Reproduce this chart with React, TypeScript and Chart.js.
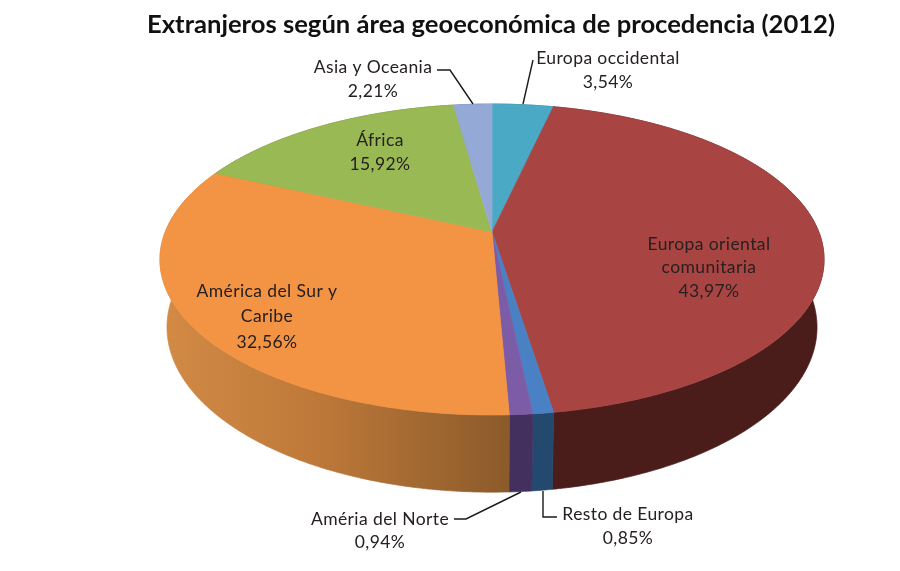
import React, { useEffect, useRef } from "react";
import { Chart, registerables } from "chart.js";

Chart.register(...registerables);

const titleText = "Extranjeros según área geoeconómica de procedencia (2012)";
const categories = [
  "Europa occidental",
  "Europa oriental comunitaria",
  "Resto de Europa",
  "Améria del Norte",
  "América del Sur y Caribe",
  "África",
  "Asia y Oceania",
];
const shares = [3.54, 43.97, 0.85, 0.94, 32.56, 15.92, 2.21];
const shareLabels = ["3,54%", "43,97%", "0,85%", "0,94%", "32,56%", "15,92%", "2,21%"];
const topColors = ["#4aa9c4", "#a84543", "#4a80c4", "#7c5ca6", "#f39344", "#99b955", "#95a9d6"];
const sideColors = ["#2b6a7c", "#4a1c1a", "#24496e", "#43305e", "#b27035", "#5e7433", "#5a6a8c"];

// Where each slice's label sits: wrapped lines, centre x, centre y of first line, line step.
const labelLayout = [
  { lines: ["Europa occidental"], x: 608, y: 58, step: 24 },
  { lines: ["Europa oriental", "comunitaria"], x: 709, y: 244, step: 23.5 },
  { lines: ["Resto de Europa"], x: 628, y: 514, step: 24 },
  { lines: ["Améria del Norte"], x: 380, y: 519, step: 23 },
  { lines: ["América del Sur y", "Caribe"], x: 267, y: 291, step: 25.5 },
  { lines: ["África"], x: 380, y: 140, step: 24 },
  { lines: ["Asia y Oceania"], x: 373, y: 67, step: 24 },
];
const leaderLines = [
  [[533, 60], [523, 104]],
  [[543, 491], [543, 517], [557, 517]],
  [[454, 519], [466, 519], [521, 492]],
  [[437, 70], [450, 70], [473, 104]],
];

// Perspective disc: the top face and the bottom rim share one tilt.
const tilt = 0.177;
const topFace = { cx: 492, cy: 232, rx: 326.8, ry: 150.6 };
const bottomFace = { cx: 492, cy: 298, rx: 319.9, ry: 159.8 };

type Face = typeof topFace;
const project = (f: Face, a: number): [number, number] => {
  const u = Math.cos(a);
  const v = Math.sin(a);
  const d = 1 - tilt * v;
  return [f.cx + (f.rx * u) / d, f.cy + (f.ry * v) / d];
};
const rim = (f: Face, a0: number, a1: number) => {
  const n = Math.max(4, Math.ceil(Math.abs(a1 - a0) / 0.01));
  const pts: [number, number][] = [];
  for (let i = 0; i <= n; i++) pts.push(project(f, a0 + ((a1 - a0) * i) / n));
  return pts;
};

const pie3d = {
  id: "pie3d",
  beforeDatasetDraw(chart: any) {
    const { ctx } = chart;
    const arcs = chart.getDatasetMeta(0).data as any[];
    ctx.save();
    ctx.lineWidth = 0.7;
    ctx.lineJoin = "round";
    arcs.forEach((arc, i) => {
      const { startAngle, endAngle } = arc.getProps(["startAngle", "endAngle"], true);
      const upper = rim(topFace, startAngle, endAngle);
      const lower = rim(bottomFace, endAngle, startAngle);
      ctx.beginPath();
      [...upper, ...lower].forEach(([x, y], k) => (k ? ctx.lineTo(x, y) : ctx.moveTo(x, y)));
      ctx.closePath();
      if (i === 4) {
        const g = ctx.createLinearGradient(165, 0, 512, 0);
        g.addColorStop(0, "#d28a45");
        g.addColorStop(0.45, "#bd7839");
        g.addColorStop(1, "#8a5a2a");
        ctx.fillStyle = g;
        ctx.strokeStyle = g;
      } else {
        ctx.fillStyle = sideColors[i];
        ctx.strokeStyle = sideColors[i];
      }
      ctx.fill();
      ctx.stroke();
    });
    arcs.forEach((arc, i) => {
      const { startAngle, endAngle } = arc.getProps(["startAngle", "endAngle"], true);
      ctx.beginPath();
      ctx.moveTo(topFace.cx, topFace.cy);
      rim(topFace, startAngle, endAngle).forEach(([x, y]) => ctx.lineTo(x, y));
      ctx.closePath();
      ctx.fillStyle = topColors[i];
      ctx.strokeStyle = topColors[i];
      ctx.fill();
      ctx.stroke();
    });
    ctx.restore();
    return false;
  },
  afterDatasetsDraw(chart: any) {
    const { ctx } = chart;
    ctx.save();
    ctx.strokeStyle = "#1a1a1a";
    ctx.lineWidth = 1.4;
    leaderLines.forEach((line) => {
      ctx.beginPath();
      line.forEach(([x, y], k) => (k ? ctx.lineTo(x, y) : ctx.moveTo(x, y)));
      ctx.stroke();
    });
    ctx.font = '17.5px Lato, "Open Sans", sans-serif';
    (ctx as any).letterSpacing = "0.4px";
    ctx.textAlign = "center";
    ctx.textBaseline = "middle";
    ctx.fillStyle = "#262020";
    labelLayout.forEach((l, i) => {
      const rows = [...l.lines, shareLabels[i]];
      rows.forEach((t, k) => ctx.fillText(t, l.x, l.y + k * l.step));
    });
    ctx.restore();
  },
};

export default function App() {
  const ref = useRef<HTMLCanvasElement>(null);
  useEffect(() => {
    const chart = new Chart(ref.current as HTMLCanvasElement, {
      type: "pie",
      data: {
        labels: categories,
        datasets: [{ data: shares, backgroundColor: topColors, borderWidth: 0 }],
      },
      options: {
        animation: false,
        responsive: false,
        rotation: 0,
        layout: { padding: { left: 82, top: 0 } },
        plugins: {
          legend: { display: false },
          tooltip: { enabled: false },
          title: {
            display: true,
            text: titleText,
            color: "#111111",
            font: { family: 'Lato, "Open Sans", sans-serif', size: 25.6, weight: "bold" },
            padding: { top: 9, bottom: 8 },
          },
        },
      } as any,
      plugins: [pie3d],
    });
    return () => chart.destroy();
  }, []);
  return (
    <div style={{ position: "fixed", left: 0, top: 0, width: 900, height: 571, background: "#fff" }}>
      <canvas ref={ref} width={900} height={571} style={{ display: "block", filter: "blur(0.5px)" }} />
    </div>
  );
}
